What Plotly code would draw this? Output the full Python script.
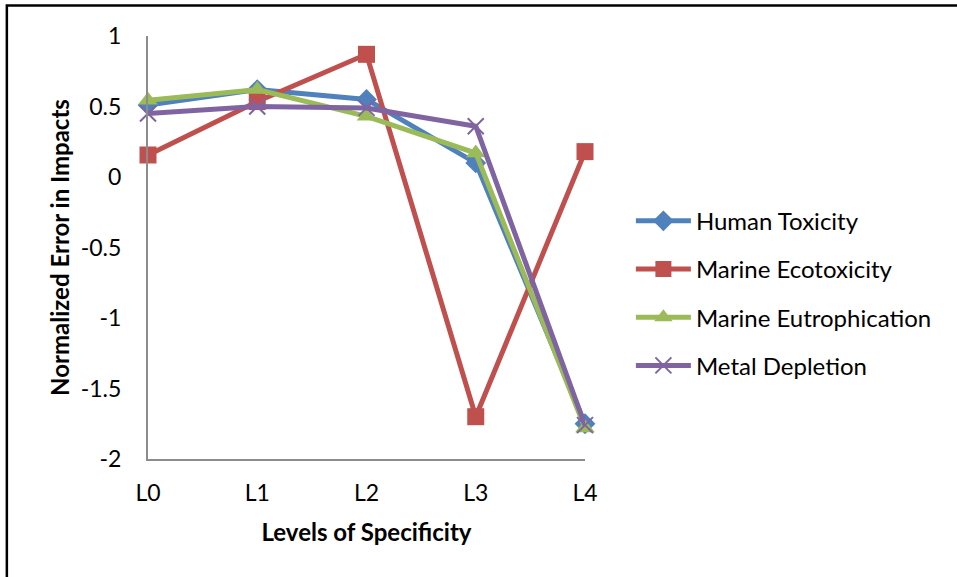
import plotly.graph_objects as go

levels = ["L0", "L1", "L2", "L3", "L4"]
human_toxicity = [0.51, 0.62, 0.55, 0.10, -1.75]
marine_ecotoxicity = [0.156, 0.535, 0.87, -1.70, 0.18]
marine_eutrophication = [0.545, 0.62, 0.43, 0.17, -1.78]
metal_depletion = [0.45, 0.50, 0.49, 0.36, -1.76]
y_ticks = [1, 0.5, 0, -0.5, -1, -1.5, -2]
y_tick_text = ["1", "0.5", "0", "-0.5", "-1", "-1.5", "-2"]

FONT = "Lato, Carlito, Calibri, sans-serif"

series = [
    ("Human Toxicity", human_toxicity, "#4F81BD", "diamond", 16),
    ("Marine Ecotoxicity", marine_ecotoxicity, "#C0504D", "square", 17),
    ("Marine Eutrophication", marine_eutrophication, "#9BBB59", "triangle-up", 17),
    ("Metal Depletion", metal_depletion, "#8064A2", "x-thin", 16),
]

fig = go.Figure()
for name, vals, color, symbol, size in series:
    marker = dict(symbol=symbol, size=size, color=color)
    if symbol == "x-thin":
        marker["line"] = dict(color=color, width=2)
    fig.add_trace(go.Scatter(
        x=list(range(len(levels))), y=vals, name=name, legendgroup=name,
        mode="lines+markers", cliponaxis=False,
        line=dict(color=color, width=5), marker=marker,
    ))

fig.update_layout(
    width=957, height=577,
    margin=dict(l=148, r=372, t=36, b=118),
    paper_bgcolor="white", plot_bgcolor="white",
    font=dict(family=FONT, size=23, color="black"),
    showlegend=True,
    legend=dict(
        x=1.105, xanchor="left", xref="paper", y=0.392, yanchor="middle",
        font=dict(family=FONT, size=24, color="black"),
        itemwidth=55, tracegroupgap=14, bgcolor="rgba(0,0,0,0)",
    ),
    xaxis=dict(
        range=[0, 4], tickmode="array", tickvals=list(range(len(levels))),
        ticktext=levels, showgrid=False, zeroline=False,
        showline=True, linecolor="#8c8c8c", linewidth=2, ticks="",
        ticklabelstandoff=12,
        title=dict(text="<b>Levels of Specificity</b>", standoff=20,
                   font=dict(family=FONT, size=24)),
    ),
    yaxis=dict(
        range=[-2, 1], tickmode="array", tickvals=y_ticks, ticktext=y_tick_text,
        showgrid=False, zeroline=False,
        showline=True, linecolor="#8c8c8c", linewidth=2, ticks="",
        ticklabelstandoff=20,
        title=dict(text="<b>Normalized Error in Impacts</b>", standoff=4,
                   font=dict(family=FONT, size=24)),
    ),
    shapes=[dict(
        type="rect", xref="paper", yref="paper",
        x0=-0.323, x1=1.95, y0=-0.40, y1=1.072,
        line=dict(color="black", width=2.5), fillcolor="rgba(0,0,0,0)",
        layer="below",
    )],
)

fig.write_html("out.html")
